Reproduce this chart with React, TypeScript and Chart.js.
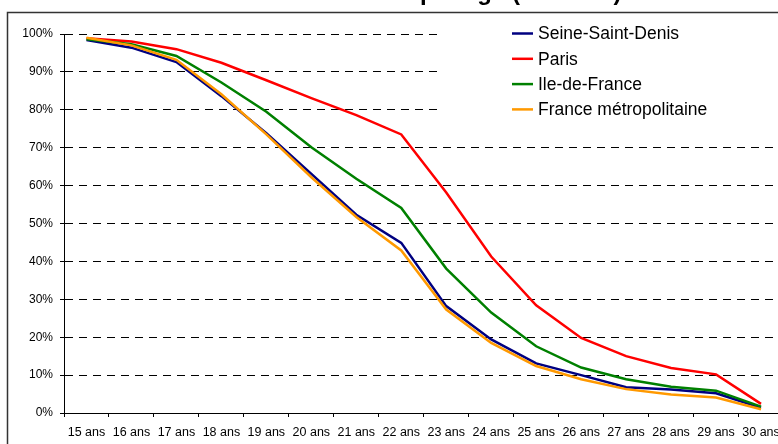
import React, { useEffect, useRef } from "react";
import { Chart, registerables } from "chart.js";

Chart.register(...registerables);

const categories = [
  "15 ans", "16 ans", "17 ans", "18 ans", "19 ans", "20 ans", "21 ans", "22 ans",
  "23 ans", "24 ans", "25 ans", "26 ans", "27 ans", "28 ans", "29 ans", "30 ans",
];
const seineSaintDenis = [98.4, 96.4, 92.6, 83.6, 73.8, 63.1, 52.3, 44.9, 28.2, 19.4, 13.1, 10.0, 6.8, 6.2, 5.2, 1.4];
const paris = [98.9, 98.0, 96.0, 92.4, 87.8, 83.1, 78.6, 73.5, 58.2, 41.3, 28.4, 19.8, 15.0, 11.9, 10.2, 2.4];
const ileDeFrance = [98.6, 97.3, 94.2, 87.2, 79.5, 70.1, 61.8, 54.1, 38.1, 26.5, 17.6, 12.0, 8.9, 6.9, 5.9, 1.7];
const franceMetro = [99.0, 97.0, 93.2, 84.1, 73.5, 62.2, 51.7, 42.9, 27.3, 18.5, 12.4, 8.9, 6.3, 4.9, 4.1, 1.0];
const seriesLabels = ["Seine-Saint-Denis", "Paris", "Ile-de-France", "France métropolitaine"];
const seriesColors = ["#000080", "#FF0000", "#008000", "#FF9900"];
const titleText = "Taux de scolarisation par âge (RP 1999)";

const W = 840;
const H = 444;
const FONT = "'Liberation Sans', Arial, sans-serif";

const framePlugin = {
  id: "frame",
  beforeDraw(chart: any) {
    const ctx = chart.ctx;
    ctx.save();
    ctx.fillStyle = "#fff";
    ctx.fillRect(0, 0, chart.width, chart.height);
    ctx.strokeStyle = "#333";
    ctx.lineWidth = 1.5;
    ctx.beginPath();
    ctx.moveTo(7.5, 2000);
    ctx.lineTo(7.5, 12.5);
    ctx.lineTo(2000, 12.5);
    ctx.stroke();
    // title (only its lower part is visible)
    ctx.font = "bold 24px " + FONT;
    ctx.fillStyle = "#000";
    ctx.textBaseline = "alphabetic";
    ctx.textAlign = "left";
    const prefix = "Taux de scolarisation ";
    const x0 = 420 - ctx.measureText(prefix).width;
    ctx.fillText(titleText, x0, 0);
    ctx.restore();
  },
};

const legendPlugin = {
  id: "customLegend",
  afterDatasetsDraw(chart: any) {
    const ctx = chart.ctx;
    ctx.save();
    ctx.fillStyle = "#fff";
    ctx.fillRect(441, 19, 400, 108);
    ctx.font = "17.5px " + FONT;
    ctx.textBaseline = "middle";
    ctx.textAlign = "left";
    seriesLabels.forEach((lab, i) => {
      const y = 33.5 + i * 25.3;
      ctx.strokeStyle = seriesColors[i];
      ctx.lineWidth = 2.5;
      ctx.beginPath();
      ctx.moveTo(512, y);
      ctx.lineTo(533, y);
      ctx.stroke();
      ctx.fillStyle = "#000";
      ctx.fillText(lab, 538, y + 1);
    });
    ctx.restore();
  },
};

export default function App() {
  const ref = useRef<HTMLCanvasElement>(null);
  useEffect(() => {
    if (!ref.current) return;
    const values = [seineSaintDenis, paris, ileDeFrance, franceMetro];
    const chart = new Chart(ref.current, {
      type: "line",
      data: {
        labels: categories,
        datasets: values.map((v, i) => ({
          label: seriesLabels[i],
          data: v,
          borderColor: seriesColors[i],
          backgroundColor: seriesColors[i],
          borderWidth: 2.5,
          pointRadius: 0,
          tension: 0,
          order: 4 - i,
        })),
      },
      options: {
        responsive: false,
        animation: false,
        devicePixelRatio: 1,
        layout: { padding: { left: 8, top: 34, right: W - 783.5, bottom: 0 } },
        plugins: { legend: { display: false }, title: { display: false }, tooltip: { enabled: false } },
        scales: {
          x: {
            type: "category",
            offset: true,
            grid: {
              offset: true,
              drawOnChartArea: false,
              drawTicks: true,
              tickLength: 4,
              color: "#000",
              lineWidth: 1,
            },
            border: { display: true, color: "#000", width: 1 },
            ticks: {
              color: "#000",
              font: { family: FONT, size: 12.5 },
              padding: 8,
              maxRotation: 0,
              autoSkip: false,
            },
            afterFit: (s: any) => {
              s.height = 31;
            },
          },
          y: {
            min: 0,
            max: 100,
            ticks: {
              stepSize: 10,
              color: "#000",
              font: { family: FONT, size: 12 },
              padding: 7,
              callback: (v: any) => v + "%",
            },
            grid: {
              color: "#000",
              lineWidth: 1,
              tickLength: 4,
              tickBorderDash: [],
            },
            border: { display: true, color: "#000", width: 1, dash: [8, 6] },
            afterFit: (s: any) => {
              s.width = 56;
            },
          },
        },
      },
      plugins: [framePlugin, legendPlugin],
    });
    return () => chart.destroy();
  }, []);
  return (
    <div style={{ position: "fixed", left: 0, top: 0, width: 778, height: 444, overflow: "hidden", background: "#fff" }}>
      <canvas ref={ref} width={W} height={H} style={{ display: "block", width: W, height: H }} />
    </div>
  );
}
